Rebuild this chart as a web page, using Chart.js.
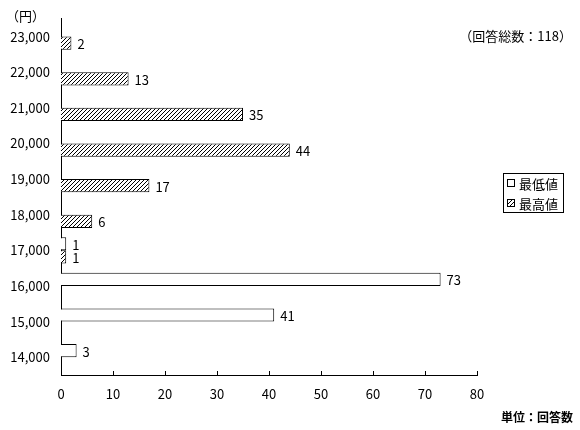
<!DOCTYPE html>
<html>
<head>
<meta charset="utf-8">
<script src="https://cdn.jsdelivr.net/npm/chart.js@4/dist/chart.umd.min.js"></script>
<style>
  html, body { margin: 0; padding: 0; background: #fff; }
  #wrap { width: 580px; height: 430px; position: relative; }
</style>
</head>
<body>
<div id="wrap"><canvas id="priceChart" width="580" height="430"></canvas></div>
<script>
// categories listed top to bottom as they appear on the chart
const categories = ['23,000', '22,000', '21,000', '20,000', '19,000', '18,000', '17,000', '16,000', '15,000', '14,000'];
const minValues = [null, null, null, null, null, null, 1, 73, 41, 3];
const maxValues = [2, 13, 35, 44, 17, 6, 1, null, null, null];
const seriesNames = ['最低値', '最高値'];
const xTicks = [0, 10, 20, 30, 40, 50, 60, 70, 80];

const FONT = '"Noto Sans CJK JP", "Noto Sans", sans-serif';

// diagonal hatch pattern for the max series
function makeHatch() {
    const c = document.createElement('canvas');
    c.width = 4; c.height = 4;
    const g = c.getContext('2d');
    g.fillStyle = '#fff';
    g.fillRect(0, 0, 4, 4);
    g.strokeStyle = '#000';
    g.lineWidth = 1;
    g.beginPath();
    g.moveTo(0, 4); g.lineTo(4, 0);
    g.moveTo(-1, 1); g.lineTo(1, -1);
    g.moveTo(3, 5); g.lineTo(5, 3);
    g.stroke();
    return g.createPattern(c, 'repeat');
}
const hatch = makeHatch();

const extrasPlugin = {
    id: 'extras',
    afterDatasetsDraw(chart) {
        const ctx = chart.ctx;
        const xs = chart.scales.x;
        const area = chart.chartArea;
        ctx.save();
        // value labels at bar ends
        ctx.font = '13px ' + FONT;
        ctx.fillStyle = '#000';
        ctx.textAlign = 'left';
        ctx.textBaseline = 'middle';
        chart.data.datasets.forEach((ds, di) => {
            const meta = chart.getDatasetMeta(di);
            meta.data.forEach((bar, i) => {
                const v = ds.data[i];
                if (v === null || v === undefined) return;
                ctx.fillText(String(v), bar.x + 6, bar.y + 1);
            });
        });
        // inward tick marks on the x axis
        ctx.strokeStyle = '#000';
        ctx.lineWidth = 1;
        ctx.beginPath();
        xTicks.forEach(t => {
            if (t === 0) return;
            const px = Math.round(xs.getPixelForValue(t)) + 0.5;
            ctx.moveTo(px, area.bottom);
            ctx.lineTo(px, area.bottom - 4);
        });
        ctx.stroke();
        // annotations
        ctx.font = '13px ' + FONT;
        ctx.textAlign = 'left';
        ctx.fillText('（円）', 6, 16);
        ctx.textAlign = 'right';
        ctx.fillText('（回答総数：118）', 572, 36);
        ctx.font = 'bold 12px ' + FONT;
        ctx.fillText('単位：回答数', 573, 417);
        // legend
        ctx.strokeStyle = '#000';
        ctx.strokeRect(503.5, 173.5, 60, 39);
        ctx.font = '13px ' + FONT;
        ctx.textAlign = 'left';
        const fills = ['#fff', hatch];
        [183, 203].forEach((y, k) => {
            ctx.fillStyle = fills[k];
            ctx.fillRect(507.5, y - 3.5, 7, 7);
            ctx.strokeRect(507.5, y - 3.5, 7, 7);
            ctx.fillStyle = '#000';
            ctx.fillText(seriesNames[k], 519, y + 1);
        });
        ctx.restore();
    }
};

new Chart(document.getElementById('priceChart'), {
    type: 'bar',
    data: {
        labels: categories,
        datasets: [{
            label: seriesNames[0],
            data: minValues,
            backgroundColor: '#fff',
            borderColor: '#000',
            borderWidth: 1,
            categoryPercentage: 0.74,
            barPercentage: 1.0
        }, {
            label: seriesNames[1],
            data: maxValues,
            backgroundColor: hatch,
            borderColor: '#000',
            borderWidth: 1,
            categoryPercentage: 0.74,
            barPercentage: 1.0
        }]
    },
    options: {
        indexAxis: 'y',
        responsive: false,
        animation: false,
        layout: { padding: { top: 17, right: 103, bottom: 0, left: 0 } },
        scales: {
            x: {
                min: 0,
                max: 80,
                afterBuildTicks: (scale) => { scale.ticks = xTicks.map(v => ({ value: v })); },
                afterFit: (scale) => { scale.height = 55; },
                grid: { display: false, drawTicks: false },
                border: { display: true, color: '#000', width: 1 },
                ticks: { color: '#000', font: { family: FONT, size: 13 }, padding: 11, maxRotation: 0 }
            },
            y: {
                afterFit: (scale) => { scale.width = 61; },
                grid: { display: false, drawTicks: false },
                border: { display: true, color: '#000', width: 1 },
                ticks: { color: '#000', font: { family: FONT, size: 13 }, padding: 11 }
            }
        },
        plugins: {
            legend: { display: false },
            tooltip: { enabled: false }
        }
    },
    plugins: [extrasPlugin]
});
</script>
</body>
</html>
